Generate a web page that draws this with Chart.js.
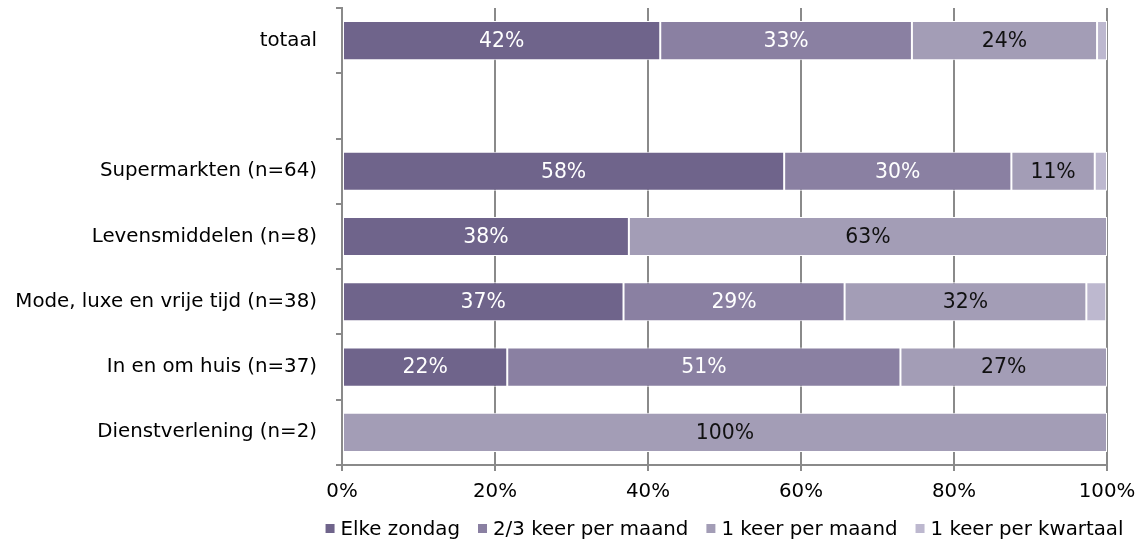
<!DOCTYPE html>
<html>
<head>
<meta charset="utf-8">
<script src="https://cdn.jsdelivr.net/npm/chart.js@4/dist/chart.umd.min.js"></script>
<style>
  html, body { margin: 0; padding: 0; background: #fff; }
  #wrap { width: 1148px; height: 548px; }
</style>
</head>
<body>
<div id="wrap"><canvas id="koopzondag" width="1148" height="548"></canvas></div>
<script>
// Frequentie van openstelling op zondag, per branche (percentages)
const categories = [
    'totaal',
    '',
    'Supermarkten (n=64)',
    'Levensmiddelen (n=8)',
    'Mode, luxe en vrije tijd (n=38)',
    'In en om huis (n=37)',
    'Dienstverlening (n=2)'
];
const seriesNames = ['Elke zondag', '2/3 keer per maand', '1 keer per maand', '1 keer per kwartaal'];
const elkeZondag = [41.6, null, 57.8, 37.5, 36.8, 21.6, null];
const tweeDrieKeer = [32.9, null, 29.7, null, 28.9, 51.4, null];
const eenKeerMaand = [24.2, null, 10.9, 62.5, 31.6, 27.0, 100];
const eenKeerKwartaal = [1.3, null, 1.6, null, 2.6, null, null];
const xTicks = [0, 20, 40, 60, 80, 100];

const colors = ['#6f648b', '#8a80a2', '#a39db6', '#bdb8cf'];
const labelColors = ['#ffffff', '#ffffff', '#111111', '#111111'];
const gridColor = '#8a8a8a';
const FONT = 'DejaVu Sans';

Chart.defaults.font.family = FONT;
Chart.defaults.font.size = 19.8;
Chart.defaults.color = '#000';

// percentage in the middle of each segment (small slivers stay empty)
const segmentLabels = {
    id: 'segmentLabels',
    afterDatasetsDraw(chart) {
        const ctx = chart.ctx;
        ctx.save();
        ctx.font = '20.4px "' + FONT + '"';
        ctx.textAlign = 'center';
        ctx.textBaseline = 'middle';
        chart.data.datasets.forEach((ds, di) => {
            const meta = chart.getDatasetMeta(di);
            meta.data.forEach((bar, i) => {
                const v = ds.data[i];
                if (v == null || v < 5) return;
                const p = bar.getProps(['x', 'base', 'y'], true);
                ctx.fillStyle = labelColors[di];
                ctx.fillText(Math.round(v) + '%', (p.x + p.base) / 2, p.y + 1);
            });
        });
        ctx.restore();
    }
};

// legend row centred under the plot area
const bottomLegend = {
    id: 'bottomLegend',
    afterDraw(chart) {
        const ctx = chart.ctx;
        const box = 9, gapText = 6, gapItem = 18;
        ctx.save();
        ctx.font = '19.8px "' + FONT + '"';
        ctx.textBaseline = 'middle';
        ctx.textAlign = 'left';
        const widths = seriesNames.map(n => ctx.measureText(n).width);
        const total = widths.reduce((s, w) => s + box + gapText + w, 0) + gapItem * (seriesNames.length - 1);
        const area = chart.chartArea;
        let x = (area.left + area.right) / 2 - total / 2;
        const y = 528.5;
        seriesNames.forEach((name, i) => {
            ctx.fillStyle = colors[i];
            ctx.fillRect(x, y - box / 2, box, box);
            x += box + gapText;
            ctx.fillStyle = '#000';
            ctx.fillText(name, x, y + 1);
            x += widths[i] + gapItem;
        });
        ctx.restore();
    }
};

const seriesData = [elkeZondag, tweeDrieKeer, eenKeerMaand, eenKeerKwartaal];

new Chart(document.getElementById('koopzondag'), {
    type: 'bar',
    data: {
        labels: categories,
        datasets: seriesNames.map((name, i) => ({
            label: name,
            data: seriesData[i],
            backgroundColor: colors[i],
            borderColor: '#ffffff',
            borderWidth: 1,
            borderSkipped: false,
            barPercentage: 0.6,
            categoryPercentage: 1.0
        }))
    },
    options: {
        indexAxis: 'y',
        responsive: false,
        animation: false,
        layout: { padding: { top: 8, right: 41, bottom: 42, left: 0 } },
        plugins: {
            legend: { display: false },
            tooltip: { enabled: false }
        },
        scales: {
            x: {
                stacked: true,
                min: 0,
                max: 100,
                afterBuildTicks: (scale) => { scale.ticks = xTicks.map(v => ({ value: v })); },
                afterFit: (scale) => { scale.height = 41; },
                grid: { color: gridColor, lineWidth: 2, tickLength: 6 },
                border: { display: true, color: gridColor, width: 2 },
                ticks: { padding: 9, callback: (v) => v + '%' }
            },
            y: {
                stacked: true,
                afterFit: (scale) => {
                    scale.width = 342;
                    scale.paddingTop = 0;
                    scale.paddingBottom = 0;
                },
                grid: { drawOnChartArea: false, color: gridColor, lineWidth: 2, tickLength: 6, offset: true },
                border: { display: true, color: gridColor, width: 2 },
                ticks: { padding: 19, autoSkip: false }
            }
        }
    },
    plugins: [segmentLabels, bottomLegend]
});
</script>
</body>
</html>
